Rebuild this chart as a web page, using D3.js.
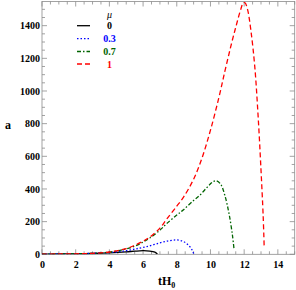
<!DOCTYPE html>
<html><head><meta charset="utf-8">
<script src="https://cdn.jsdelivr.net/npm/d3@7"></script>
<style>body{margin:0;background:#fff}svg{display:block}</style>
</head><body>
<script>
const tBlack = [0, 1, 2, 3, 4, 5, 5.5, 6, 6.4, 6.7, 6.85];
const aBlack = [1, 2, 3, 5, 9, 15, 19, 22, 20, 13, 2];
const tBlue = [0, 1, 2, 3, 4, 5, 5.8, 6.4, 7, 7.5, 8, 8.4, 8.7, 8.9, 9.0];
const aBlue = [1, 2, 3, 6, 11, 22, 38, 52, 70, 82, 88, 78, 55, 28, 5];
const tGreen = [0, 1, 2, 3, 4, 5, 5.5, 6, 6.4, 7, 7.4, 8, 8.4, 9, 9.4, 9.8, 10.1, 10.32, 10.6, 10.85, 11.1, 11.3, 11.4];
const aGreen = [1, 2, 3, 6, 13, 33, 50, 75, 100, 148, 188, 240, 273, 330, 365, 410, 440, 451, 430, 362, 250, 120, 30];
const tRed = [0, 1, 2, 3, 4, 5, 5.5, 6, 6.4, 7, 7.4, 8, 8.4, 9, 9.5, 10, 10.5, 10.85, 11.2, 11.5, 11.8, 11.95, 12.05, 12.2, 12.4, 12.63, 12.83, 12.99, 13.13, 13.19];
const aRed = [1, 2, 3, 6, 14, 35, 55, 80, 105, 160, 215, 295, 350, 460, 590, 760, 960, 1118, 1270, 1390, 1500, 1540, 1540, 1500, 1370, 1149, 843, 536, 230, 37];
const legendLabels = ["0", "0.3", "0.7", "1"];
const xTicks = [0, 2, 4, 6, 8, 10, 12, 14];
const yTicks = [0, 200, 400, 600, 800, 1000, 1200, 1400];

const W = 296, H = 290;
const L = 42, R = 294.7, T = 1.5, B = 254.3;
const svg = d3.select("body").append("svg").attr("width", W).attr("height", H);
const x = d3.scaleLinear().domain([0, 15]).range([L, R]);
const y = d3.scaleLinear().domain([0, 1548]).range([B, T]);

const series = [
  {t: tBlack, a: aBlack, color: "#000000", dash: null},
  {t: tBlue, a: aBlue, color: "#0000ff", dash: "1.5,2"},
  {t: tGreen, a: aGreen, color: "#006400", dash: "4,2,1.5,2"},
  {t: tRed, a: aRed, color: "#ff0000", dash: "5,3"}
];

svg.append("defs").append("clipPath").attr("id", "clip")
  .append("rect").attr("x", L).attr("y", T).attr("width", R - L).attr("height", B - T);

const frameColor = "#8c8c8c";
const font = "'Liberation Serif','Times New Roman',serif";

const g = svg.append("g");
const xMinor = d3.range(0, 15.01, 0.5);
const yMinor = d3.range(0, 1548, 50);
xMinor.forEach(v => {
  const major = Math.abs(v % 2) < 1e-9;
  const len = major ? 5 : 3;
  g.append("line").attr("x1", x(v)).attr("x2", x(v)).attr("y1", B).attr("y2", B - len).attr("stroke", frameColor).attr("stroke-width", 0.8);
  g.append("line").attr("x1", x(v)).attr("x2", x(v)).attr("y1", T).attr("y2", T + len).attr("stroke", frameColor).attr("stroke-width", 0.8);
});
yMinor.forEach(v => {
  const major = v % 200 === 0;
  const len = major ? 5 : 3;
  g.append("line").attr("y1", y(v)).attr("y2", y(v)).attr("x1", L).attr("x2", L + len).attr("stroke", frameColor).attr("stroke-width", 0.8);
  g.append("line").attr("y1", y(v)).attr("y2", y(v)).attr("x1", R).attr("x2", R - len).attr("stroke", frameColor).attr("stroke-width", 0.8);
});

const xAxis = svg.append("g").attr("transform", `translate(0,${B})`)
  .call(d3.axisBottom(x).tickValues(xTicks).tickSize(0).tickPadding(7).tickFormat(d3.format("d")));
const yAxis = svg.append("g").attr("transform", `translate(${L},0)`)
  .call(d3.axisLeft(y).tickValues(yTicks).tickSize(0).tickPadding(2).tickFormat(d3.format("d")));
[xAxis, yAxis].forEach(ax => {
  ax.select(".domain").remove();
  ax.selectAll("text").attr("font-family", font).attr("font-weight", "bold").attr("font-size", 10).attr("fill", "#000");
});

svg.append("rect").attr("x", L).attr("y", T).attr("width", R - L).attr("height", B - T)
  .attr("fill", "none").attr("stroke", frameColor).attr("stroke-width", 0.8);

const line = d3.line().x(d => x(d[0])).y(d => y(d[1])).curve(d3.curveCatmullRom.alpha(0.5));
const cg = svg.append("g").attr("clip-path", "url(#clip)");
series.forEach(s => {
  const pts = s.t.map((t, i) => [t, s.a[i]]);
  cg.append("path").datum(pts).attr("d", line).attr("fill", "none")
    .attr("stroke", s.color).attr("stroke-width", 1.3)
    .attr("stroke-dasharray", s.dash);
});

const lg = svg.append("g");
lg.append("text").attr("x", 109.5).attr("y", 18).attr("text-anchor", "middle")
  .attr("font-family", font).attr("font-style", "italic").attr("font-size", 10).text("μ");
const rowY = [25.7, 38.7, 51.5, 64];
series.forEach((s, i) => {
  lg.append("line").attr("x1", 77).attr("x2", 90).attr("y1", rowY[i]).attr("y2", rowY[i])
    .attr("stroke", s.color).attr("stroke-width", 1.3).attr("stroke-dasharray", s.dash);
  lg.append("text").attr("x", 109.5).attr("y", rowY[i] + 3.5).attr("text-anchor", "middle")
    .attr("font-family", font).attr("font-weight", "bold").attr("font-size", 10)
    .attr("fill", s.color).text(legendLabels[i]);
});

const xt = svg.append("text").attr("x", 158).attr("y", 285).attr("font-family", font)
  .attr("font-weight", "bold").attr("font-size", 12);
xt.append("tspan").text("tH");
xt.append("tspan").attr("font-size", 8).attr("dy", 2.5).text("0");
svg.append("text").attr("x", 8).attr("y", 129).attr("text-anchor", "middle").attr("font-family", font)
  .attr("font-weight", "bold").attr("font-size", 12).text("a");
</script>
</body></html>
